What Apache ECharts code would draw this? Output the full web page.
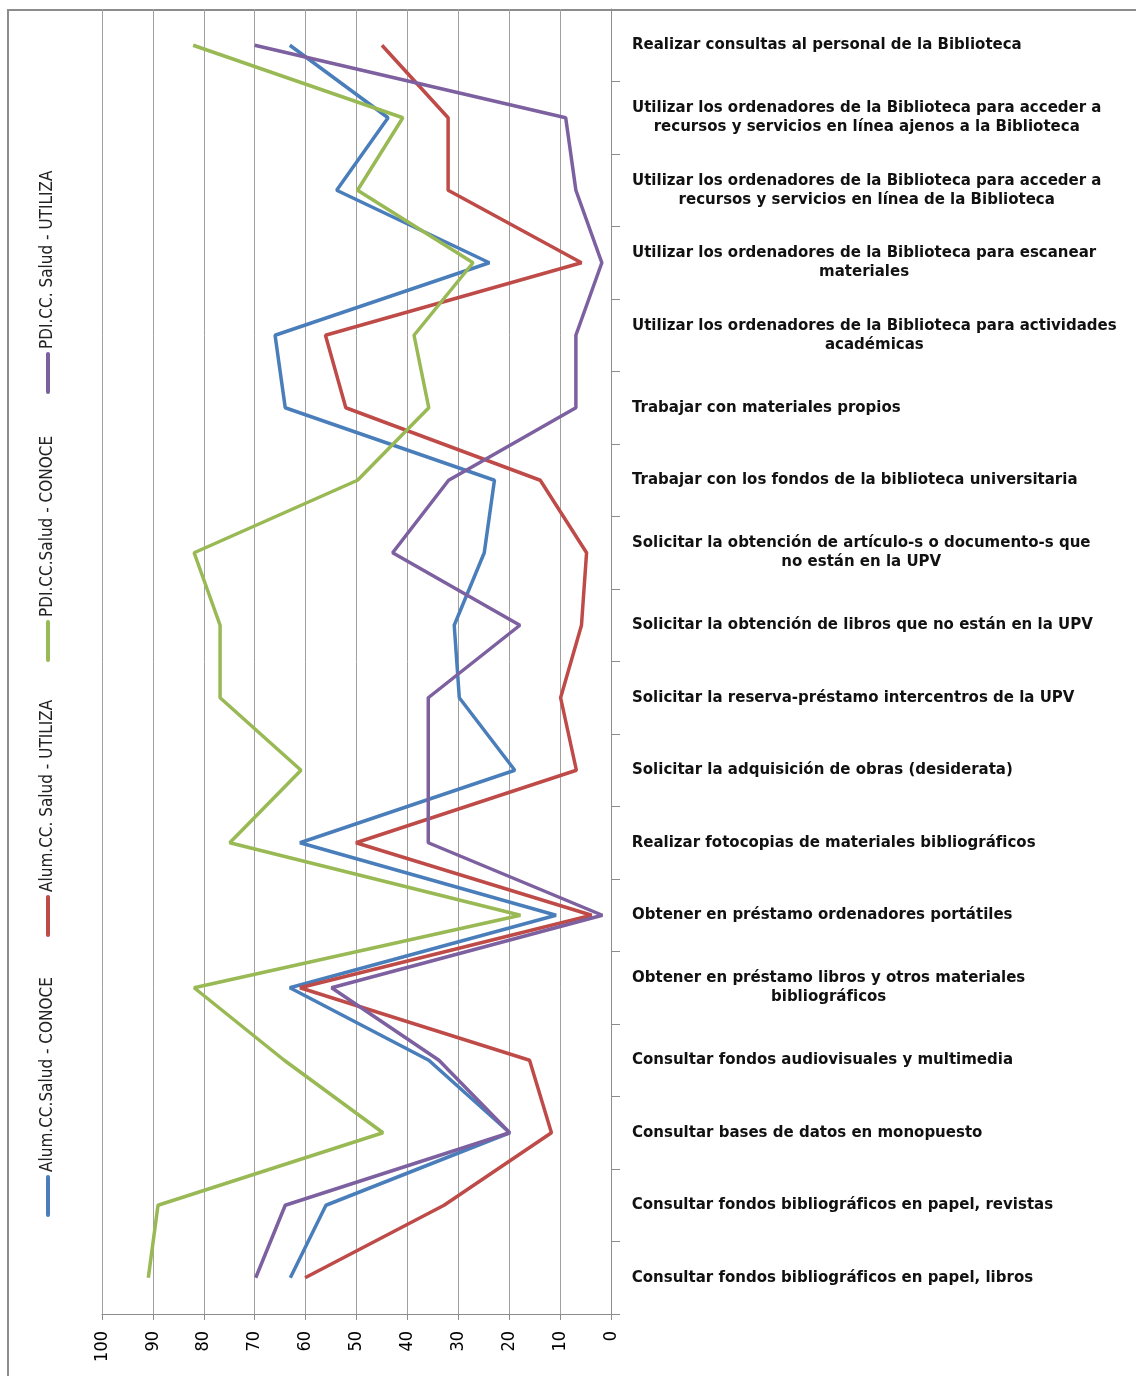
<!DOCTYPE html>
<html lang="es">
<head>
    <meta charset="UTF-8">
    <title>Conoce / Utiliza - CC. Salud</title>
    <script src="https://cdn.jsdelivr.net/npm/echarts@6/dist/echarts.min.js"></script>
    <style>
        html, body { margin: 0; padding: 0; background: #fff; }
    </style>
</head>
<body>
<div id="main" style="width: 1136px; height: 1376px;"></div>
<script>
    // categorias, de arriba a abajo
    var categorias = [
        'Realizar consultas al personal de la Biblioteca',
        'Utilizar los ordenadores de la Biblioteca para acceder a\nrecursos y servicios en línea ajenos a la Biblioteca',
        'Utilizar los ordenadores de la Biblioteca para acceder a\nrecursos y servicios en línea de la Biblioteca',
        'Utilizar los ordenadores de la Biblioteca para escanear\nmateriales',
        'Utilizar los ordenadores de la Biblioteca para actividades\nacadémicas',
        'Trabajar con materiales propios',
        'Trabajar con los fondos de la biblioteca universitaria',
        'Solicitar la obtención de artículo-s o documento-s que\nno están en la UPV',
        'Solicitar la obtención de libros que no están en la UPV',
        'Solicitar la reserva-préstamo intercentros de la UPV',
        'Solicitar la adquisición de obras (desiderata)',
        'Realizar fotocopias de materiales bibliográficos',
        'Obtener en préstamo ordenadores portátiles',
        'Obtener en préstamo libros y otros materiales\nbibliográficos',
        'Consultar fondos audiovisuales y multimedia',
        'Consultar bases de datos en monopuesto',
        'Consultar fondos bibliográficos en papel, revistas',
        'Consultar fondos bibliográficos en papel, libros'
    ];

    var nombres = [
        'Alum.CC.Salud - CONOCE',
        'Alum.CC. Salud - UTILIZA',
        'PDI.CC.Salud - CONOCE',
        'PDI.CC. Salud - UTILIZA'
    ];

    var alumConoce = [63.1, 43.8, 53.9, 23.9, 66.0, 64.0, 22.9, 24.9, 30.8, 29.8, 18.9, 61.1, 10.8, 63.1, 35.8, 19.9, 56.0, 63.0];
    var alumUtiliza = [45.0, 32.0, 32.0, 5.8, 56.1, 52.1, 13.9, 4.8, 5.8, 9.9, 6.8, 50.1, 3.8, 61.1, 16.0, 11.7, 32.8, 60.1];
    var pdiConoce = [82.1, 40.9, 49.8, 27.1, 38.7, 35.8, 49.8, 81.9, 76.8, 76.8, 60.9, 74.9, 17.8, 81.9, 64.2, 44.8, 89.0, 90.9];
    var pdiUtiliza = [70.0, 8.9, 6.9, 1.8, 6.9, 6.9, 31.9, 42.9, 17.9, 35.9, 35.9, 35.9, 1.7, 54.9, 33.8, 19.9, 64.0, 69.8];

    var colores = ['#4a7ebb', '#be4b48', '#98b954', '#7d60a0'];
    var valores = [alumConoce, alumUtiliza, pdiConoce, pdiUtiliza];

    var myCharts = echarts.init(document.getElementById('main'));

    var serie = [];
    for (var i = 0; i < valores.length; i++) {
        serie.push({
            name: nombres[i],
            type: 'line',
            data: valores[i],
            symbol: 'none',
            lineStyle: { width: 3.5, color: colores[i] },
            itemStyle: { color: colores[i] }
        });
    }

    // leyenda girada (vertical, se lee de abajo a arriba)
    var leyendaY = [1215, 935, 660, 392];
    var leyenda = [];
    for (var k = 0; k < nombres.length; k++) {
        leyenda.push({
            type: 'group',
            x: 48,
            y: leyendaY[k],
            rotation: Math.PI / 2,
            children: [
                {
                    type: 'line',
                    shape: { x1: 0, y1: 0, x2: 38, y2: 0 },
                    style: { stroke: colores[k], lineWidth: 4, lineCap: 'round' }
                },
                {
                    type: 'text',
                    x: 43,
                    y: 0,
                    style: {
                        text: nombres[k],
                        fill: '#222',
                        fontSize: 17,
                        fontFamily: "'Liberation Sans Narrow', 'DejaVu Sans Condensed', 'Liberation Sans'",
                        verticalAlign: 'middle',
                        align: 'left'
                    }
                }
            ]
        });
    }

    // marco exterior
    leyenda.push({
        type: 'rect',
        shape: { x: 8, y: 10, width: 1200, height: 1500 },
        style: { fill: 'none', stroke: '#8c8c8c', lineWidth: 2 },
        silent: true
    });

    var option = {
        animation: false,
        backgroundColor: '#fff',
        grid: { left: 102, right: 525, top: 9, bottom: 62 },
        xAxis: {
            type: 'value',
            min: 0,
            max: 100,
            interval: 10,
            inverse: true,
            position: 'bottom',
            splitLine: { show: true, lineStyle: { color: '#a0a0a0', width: 1 } },
            axisLine: { show: true, lineStyle: { color: '#8c8c8c', width: 1 } },
            axisTick: { show: true, length: 6, lineStyle: { color: '#8c8c8c' } },
            axisLabel: {
                rotate: 90,
                margin: 17,
                fontSize: 18,
                color: '#000',
                fontFamily: "'Liberation Sans Narrow', 'DejaVu Sans Condensed', 'Liberation Sans'"
            }
        },
        yAxis: {
            type: 'category',
            data: categorias,
            inverse: true,
            position: 'right',
            boundaryGap: true,
            axisLine: { show: true, lineStyle: { color: '#8c8c8c', width: 1 } },
            axisTick: { show: true, length: 9, inside: false, lineStyle: { color: '#8c8c8c' } },
            splitLine: { show: false },
            axisLabel: {
                margin: 21,
                align: 'left',
                interval: 0,
                formatter: function (v) {
                    return v.split('\n').map(function (l) { return '{c|' + l + '}'; }).join('\n');
                },
                rich: {
                    c: {
                        align: 'center',
                        fontSize: 15,
                        fontWeight: 'bold',
                        lineHeight: 19,
                        color: '#111',
                        fontFamily: 'DejaVu Sans'
                    }
                }
            }
        },
        graphic: leyenda,
        series: serie
    };

    myCharts.setOption(option);
</script>
</body>
</html>
